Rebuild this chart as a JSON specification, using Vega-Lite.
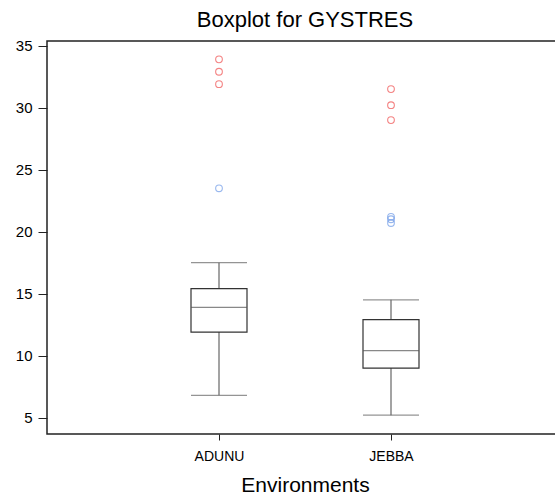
{
  "$schema": "https://vega.github.io/schema/vega-lite/v6.json",
  "width": 516,
  "height": 393,
  "autosize": {"type": "none"},
  "padding": {"left": 47, "top": 41, "right": 0, "bottom": 63},
  "background": "white",
  "title": {"text": "Boxplot for GYSTRES", "fontSize": 22, "font": "Liberation Sans", "fontWeight": "normal", "color": "#000", "offset": 7, "anchor": "middle"},
  "datasets": {
    "boxes": [
      {"env": "ADUNU", "lower": 6.8, "q1": 11.9, "median": 13.9, "q3": 15.4, "upper": 17.5},
      {"env": "JEBBA", "lower": 5.2, "q1": 9.0, "median": 10.4, "q3": 12.9, "upper": 14.5}
    ],
    "outliers": [
      {"env": "ADUNU", "value": 33.9, "kind": "extreme"},
      {"env": "ADUNU", "value": 32.9, "kind": "extreme"},
      {"env": "ADUNU", "value": 31.9, "kind": "extreme"},
      {"env": "ADUNU", "value": 23.5, "kind": "mild"},
      {"env": "JEBBA", "value": 31.5, "kind": "extreme"},
      {"env": "JEBBA", "value": 30.2, "kind": "extreme"},
      {"env": "JEBBA", "value": 29.0, "kind": "extreme"},
      {"env": "JEBBA", "value": 21.2, "kind": "mild"},
      {"env": "JEBBA", "value": 21.0, "kind": "mild"},
      {"env": "JEBBA", "value": 20.7, "kind": "mild"}
    ]
  },
  "config": {
    "view": {"stroke": "#222", "strokeWidth": 1.5},
    "font": "Liberation Sans",
    "axis": {"grid": false, "domain": false, "tickColor": "#222", "labelColor": "#000", "titleColor": "#000", "labelFont": "Liberation Sans", "titleFont": "Liberation Sans"}
  },
  "encoding": {
    "x": {
      "field": "env", "type": "nominal",
      "scale": {"type": "point", "padding": 1, "domain": ["ADUNU", "JEBBA"]},
      "axis": {"title": "Environments", "titleFontSize": 21, "titleFontWeight": "normal", "labelFontSize": 14, "labelAngle": 0, "tickSize": 6, "labelPadding": 9, "titlePadding": 11}
    }
  },
  "layer": [
    {
      "data": {"name": "boxes"},
      "mark": {"type": "rule", "color": "#666", "strokeWidth": 1.2},
      "encoding": {
        "y": {"field": "lower", "type": "quantitative", "scale": {"domain": [3.68, 35.38], "nice": false, "zero": false},
              "axis": {"title": null, "labelFontSize": 15, "tickSize": 9, "labelPadding": 6, "values": [5, 10, 15, 20, 25, 30, 35]}},
        "y2": {"field": "q1"}
      }
    },
    {
      "data": {"name": "boxes"},
      "mark": {"type": "rule", "color": "#666", "strokeWidth": 1.2},
      "encoding": {"y": {"field": "q3", "type": "quantitative"}, "y2": {"field": "upper"}}
    },
    {
      "data": {"name": "boxes"},
      "mark": {"type": "tick", "color": "#666", "size": 56, "thickness": 1.2, "orient": "horizontal"},
      "encoding": {"y": {"field": "lower", "type": "quantitative"}}
    },
    {
      "data": {"name": "boxes"},
      "mark": {"type": "tick", "color": "#666", "size": 56, "thickness": 1.2, "orient": "horizontal"},
      "encoding": {"y": {"field": "upper", "type": "quantitative"}}
    },
    {
      "data": {"name": "boxes"},
      "mark": {"type": "bar", "fill": "white", "stroke": "#333", "strokeWidth": 1.2, "size": 56},
      "encoding": {"y": {"field": "q1", "type": "quantitative"}, "y2": {"field": "q3"}}
    },
    {
      "data": {"name": "boxes"},
      "mark": {"type": "tick", "color": "#555", "size": 56, "thickness": 1.2, "orient": "horizontal"},
      "encoding": {"y": {"field": "median", "type": "quantitative"}}
    },
    {
      "data": {"name": "outliers"},
      "mark": {"type": "point", "shape": "circle", "filled": false, "size": 45, "strokeWidth": 1.1},
      "encoding": {
        "y": {"field": "value", "type": "quantitative"},
        "color": {"field": "kind", "type": "nominal", "scale": {"domain": ["extreme", "mild"], "range": ["#f05050", "#6f9be8"]}, "legend": null}
      }
    }
  ]
}
